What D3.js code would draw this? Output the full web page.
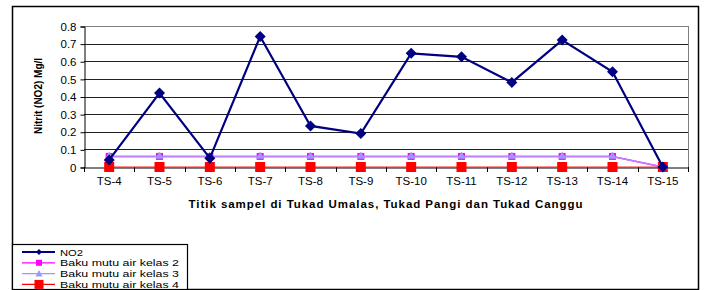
<!DOCTYPE html>
<html>
<head>
<meta charset="utf-8">
<script src="https://cdn.jsdelivr.net/npm/d3@7"></script>
<style>
  body { margin: 0; background: #fff; }
  svg { font-family: "Liberation Sans", Arial, sans-serif; }
</style>
</head>
<body>
<svg id="chart" width="704" height="290"></svg>
<script>
const categories = ["TS-4", "TS-5", "TS-6", "TS-7", "TS-8", "TS-9", "TS-10", "TS-11", "TS-12", "TS-13", "TS-14", "TS-15"];
const no2 = [0.04, 0.42, 0.05, 0.74, 0.233, 0.19, 0.645, 0.625, 0.48, 0.72, 0.54, 0];
const kelas2 = [0.06, 0.06, 0.06, 0.06, 0.06, 0.06, 0.06, 0.06, 0.06, 0.06, 0.06, 0];
const kelas3 = [0.06, 0.06, 0.06, 0.06, 0.06, 0.06, 0.06, 0.06, 0.06, 0.06, 0.06, 0];
const kelas4 = [0, 0, 0, 0, 0, 0, 0, 0, 0, 0, 0, 0];
const yTicks = [0, 0.1, 0.2, 0.3, 0.4, 0.5, 0.6, 0.7, 0.8];

const svg = d3.select("#chart");

// outer frame
svg.append("rect")
  .attr("x", 12.5).attr("y", 6.5).attr("width", 686).attr("height", 283)
  .attr("fill", "none").attr("stroke", "#000").attr("stroke-width", 1.5);

const plot = { left: 84, right: 688, top: 26, bottom: 167 };

const x = d3.scaleBand().domain(categories).range([plot.left, plot.right]);
const y = d3.scaleLinear().domain([0, 0.8]).range([plot.bottom, plot.top]);

// gridlines
svg.append("g").selectAll("line")
  .data(yTicks.slice(1))
  .enter().append("line")
  .attr("x1", plot.left).attr("x2", plot.right)
  .attr("y1", (d) => Math.round(y(d)) + 0.5).attr("y2", (d) => Math.round(y(d)) + 0.5)
  .attr("stroke", (d) => (d === 0.8 ? "#808080" : "#222"))
  .attr("stroke-width", 1);

// plot area right border
svg.append("line")
  .attr("x1", plot.right + 0.5).attr("x2", plot.right + 0.5)
  .attr("y1", plot.top).attr("y2", plot.bottom)
  .attr("stroke", "#808080");

// y axis
const yAxis = svg.append("g")
  .attr("transform", `translate(${plot.left + 0.5},0.5)`)
  .call(d3.axisLeft(y).tickValues(yTicks).tickSize(4).tickFormat((d) => (d === 0 ? "0" : d3.format(".1f")(d))));
yAxis.select(".domain").attr("stroke", "#000");
yAxis.selectAll("text").attr("font-size", 11.5).attr("fill", "#000").attr("x", -8);
yAxis.selectAll(".tick line").attr("stroke", "#000");

// x axis
const xAxis = svg.append("g")
  .attr("transform", `translate(0,${Math.round(plot.bottom) + 0.5})`)
  .call(d3.axisBottom(x).tickSize(0).tickSizeOuter(0));
xAxis.select(".domain").attr("stroke", "#000");
xAxis.selectAll("text").attr("font-size", 11.5).attr("fill", "#000").attr("dy", "1.3em");
// tick marks between categories
svg.append("g").selectAll("line")
  .data(d3.range(categories.length + 1))
  .enter().append("line")
  .attr("x1", (i) => Math.round(plot.left + i * x.step()) + 0.5)
  .attr("x2", (i) => Math.round(plot.left + i * x.step()) + 0.5)
  .attr("y1", plot.bottom).attr("y2", plot.bottom + 5)
  .attr("stroke", "#000");

const cx = (i) => x(categories[i]) + x.bandwidth() / 2;

const series = [
  { name: "NO2", values: no2, color: "#000080", marker: "diamond", size: 11 },
  { name: "Baku mutu air kelas 2", values: kelas2, color: "#ff00ff", marker: "square", size: 7 },
  { name: "Baku mutu air kelas 3", values: kelas3, color: "#9999ff", marker: "triangle", size: 8 },
  { name: "Baku mutu air kelas 4", values: kelas4, color: "#ff0000", marker: "square", size: 10 },
];

function markerPath(type, s) {
  const h = s / 2;
  if (type === "diamond") return `M0,${-h}L${h},0L0,${h}L${-h},0Z`;
  if (type === "triangle") return `M0,${-h}L${h},${h * 0.8}L${-h},${h * 0.8}Z`;
  return `M${-h},${-h}H${h}V${h}H${-h}Z`;
}

const line = d3.line().x((d, i) => cx(i)).y((d) => y(d));

// draw order: kelas 4, kelas 2, kelas 3, NO2 on top
[3, 1, 2, 0].forEach((k) => {
  const s = series[k];
  const g = svg.append("g");
  g.append("path")
    .attr("d", line(s.values))
    .attr("fill", "none")
    .attr("stroke", k === 2 ? "#c080ff" : s.color)
    .attr("stroke-width", k === 0 ? 2.2 : (k === 3 ? 1.2 : 1.6))
    .attr("opacity", k === 3 ? 0.85 : 1);
  g.selectAll("path.m")
    .data(s.values)
    .enter().append("path")
    .attr("class", "m")
    .attr("transform", (d, i) => `translate(${cx(i)},${y(d) + (k === 2 ? -1 : 0)})`)
    .attr("d", markerPath(s.marker, s.size))
    .attr("fill", s.color);
});

// axis titles
svg.append("text")
  .attr("x", 386).attr("y", 208)
  .attr("text-anchor", "middle")
  .attr("font-size", 11.5).attr("font-weight", "bold")
  .attr("letter-spacing", 0.95)
  .text("Titik sampel di Tukad Umalas, Tukad Pangi dan Tukad Canggu");

svg.append("text")
  .attr("transform", "translate(42,96) rotate(-90)")
  .attr("text-anchor", "middle")
  .attr("font-size", 10).attr("font-weight", "bold")
  .text("Nitrit (NO2) Mg/l");

// legend
const legend = svg.append("g");
legend.append("rect")
  .attr("x", 12.5).attr("y", 244.5).attr("width", 175).attr("height", 45)
  .attr("fill", "#fff").attr("stroke", "#000").attr("stroke-width", 1.2);
series.forEach((s, i) => {
  const ly = 252 + i * 10.8;
  legend.append("line")
    .attr("x1", 22).attr("x2", 55).attr("y1", ly).attr("y2", ly)
    .attr("stroke", s.color).attr("stroke-width", i === 0 ? 2 : 1.2);
  legend.append("path")
    .attr("transform", `translate(39,${ly})`)
    .attr("d", markerPath(s.marker, [6, 6, 7, 9][i]))
    .attr("fill", s.color);
  legend.append("text")
    .attr("x", 60).attr("y", ly + 3.5)
    .attr("font-size", 9.5).attr("fill", "#000")
    .attr("textLength", i === 0 ? 23 : 119)
    .attr("lengthAdjust", "spacingAndGlyphs")
    .text(s.name);
});
</script>
</body>
</html>
